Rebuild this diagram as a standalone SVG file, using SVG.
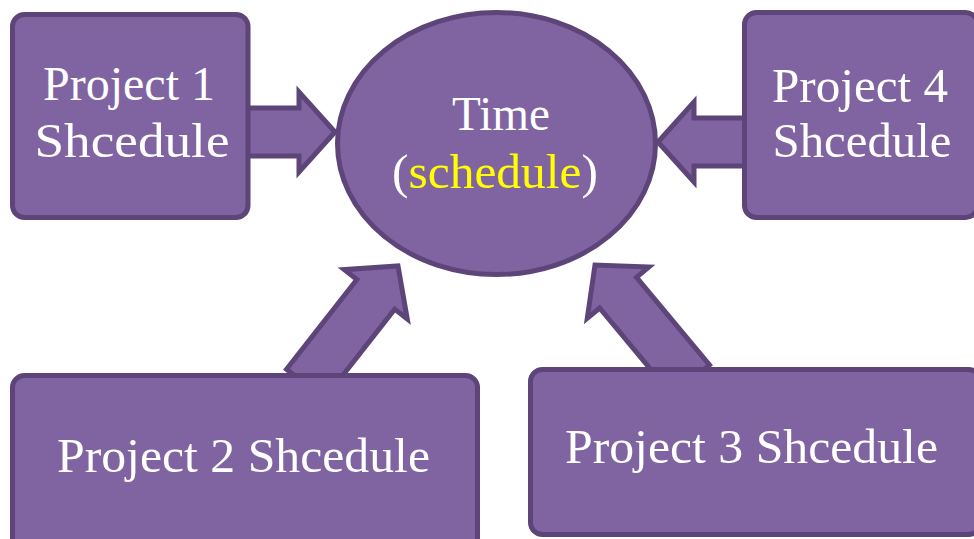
<svg xmlns="http://www.w3.org/2000/svg" width="974" height="539" viewBox="0 0 974 539">
  <style>
    .shape { fill: #8064a2; stroke: #5d4579; stroke-width: 5; stroke-linejoin: round; }
    .arrow { fill: #8064a2; stroke: #5d4579; stroke-width: 5; stroke-linejoin: miter; }
    .lbl { font-family: "Times New Roman", "Liberation Serif", serif; font-size: 48px; fill: #ffffff; text-anchor: middle; }
    .hl { fill: #ffff00; }
  </style>
  <defs>
    <polygon id="arr" points="-150,-24 -36,-24 -36,-40 0,0 -36,40 -36,24 -150,24"/>
  </defs>
  <g id="connectors">
    <use href="#arr" class="arrow" transform="translate(335,132)"/>
    <use href="#arr" class="arrow" transform="translate(658,142) rotate(180)"/>
    <use href="#arr" class="arrow" transform="translate(398,266) rotate(-51.9)"/>
    <use href="#arr" class="arrow" transform="translate(595,265) rotate(-129.8)"/>
  </g>
  <g id="time">
    <ellipse class="shape" cx="496.5" cy="143.5" rx="159" ry="131"/>
    <text class="lbl" x="501" y="130" font-size="46" textLength="98" lengthAdjust="spacingAndGlyphs">Time</text>
    <text class="lbl" x="495" y="188" textLength="206" lengthAdjust="spacingAndGlyphs">(<tspan class="hl">schedule</tspan>)</text>
  </g>
  <g id="project1">
    <rect class="shape" x="12.5" y="14.5" width="235.5" height="203" rx="12"/>
    <text class="lbl" x="129" y="100" textLength="172" lengthAdjust="spacingAndGlyphs">Project 1</text>
    <text class="lbl" x="132" y="157" textLength="195" lengthAdjust="spacingAndGlyphs">Shcedule</text>
  </g>
  <g id="project4">
    <rect class="shape" x="744.5" y="12.5" width="233" height="205" rx="12"/>
    <text class="lbl" x="860" y="102" textLength="176" lengthAdjust="spacingAndGlyphs">Project 4</text>
    <text class="lbl" x="862" y="157" textLength="179" lengthAdjust="spacingAndGlyphs">Shcedule</text>
  </g>
  <g id="project2">
    <rect class="shape" x="12.5" y="375.5" width="465" height="175" rx="12"/>
    <text class="lbl" x="243.5" y="472" textLength="373" lengthAdjust="spacingAndGlyphs">Project 2 Shcedule</text>
  </g>
  <g id="project3">
    <rect class="shape" x="530.5" y="369.5" width="450" height="165" rx="12"/>
    <text class="lbl" x="751.5" y="463" textLength="373" lengthAdjust="spacingAndGlyphs">Project 3 Shcedule</text>
  </g>
</svg>
